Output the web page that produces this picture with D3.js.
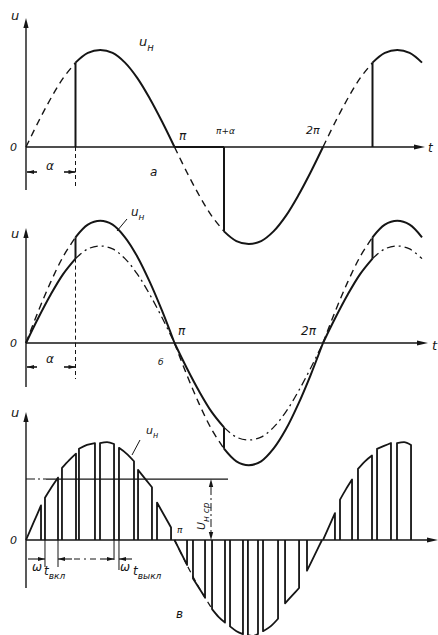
<!DOCTYPE html>
<html><head><meta charset="utf-8">
<script src="https://cdn.jsdelivr.net/npm/d3@7"></script>
<style>
body{margin:0;background:#fff}
svg{display:block}
text{font-family:"DejaVu Sans",sans-serif;font-style:italic;fill:#151515}
</style>
</head><body><svg id="c" width="438" height="635"></svg>
<script>
// ---------- data ----------
const angles = [0,15,30,45,60,75,90,105,120,135,150,165,180,195,210,225,240,255,270,285,300,315,330,345,360,375,390,405,420,435,450,465,480];
// panel a: load/supply voltage (relative)
const uA = [0,.26,.5,.71,.87,.97,1,.97,.87,.71,.5,.26,0,-.26,-.5,-.71,-.87,-.97,-1,-.97,-.87,-.71,-.5,-.26,0,.26,.5,.71,.87,.97,1,.97,.87];
// panel б: larger (supply) wave and smaller (load) wave
const uSupplyB = [0,.33,.63,.89,1.09,1.22,1.26,1.22,1.09,.89,.63,.33,0,-.33,-.63,-.89,-1.09,-1.22,-1.26,-1.22,-1.09,-.89,-.63,-.33,0,.33,.63,.89,1.09,1.22,1.26,1.22,1.09];
const uLoadB = [0,.26,.5,.71,.87,.97,1,.97,.87,.71,.5,.26,0,-.26,-.5,-.71,-.87,-.97,-1,-.97,-.87,-.71,-.5,-.26,0,.26,.5,.71,.87,.97,1,.97,.87];
const alphaDeg = 60;
// panel в: pulses (switch-on / switch-off angle, top values)
const pulseOn  = [0,23,43.6,64.2,89.7,112.7,135.8,158.8, 180,202.4,225.5,247.3,269,287.3,314,340.6, 360,380.6,402.4,425.5,449.7];
const pulseOff = [18.2,38.8,60.6,83.6,106.7,130.9,152.7,175.8, 195.2,217,241.2,263,281.2,305.5,331,358.8, 374.5,395.2,419.4,442.4,466.7];
const topOn  = [0,.44,.75,.95,1.01,.96,.73,.39, 0,-.40,-.72,-.90,-.99,-.95,-.66,-.32, 0,.42,.74,.95,1.01];
const topMid = [.18,.55,.83,.99,1.02,.90,.64,.26, -.13,-.50,-.80,-.95,-1.0,-.90,-.58,-.16, .14,.53,.82,.98,1.02];
const topOff = [.36,.65,.90,1.01,1.0,.82,.55,.13, -.26,-.60,-.86,-.98,-.98,-.82,-.50,0, .28,.63,.88,1.01,.99];
const uAvg = 0.635;

// ---------- drawing ----------
const svg = d3.select('#c');
const ink = '#151515';
const x = d3.scaleLinear().domain([0,360]).range([26,323]);
const yA = d3.scaleLinear().domain([-1,1]).range([147+97,147-97]);
const yB = d3.scaleLinear().domain([-1,1]).range([343+97,343-97]);
const yC = d3.scaleLinear().domain([-1,1]).range([540+96,540-96]);

function seg(vals,a0,a1){return angles.map((a,i)=>[a,vals[i]]).filter(d=>d[0]>=a0-1e-6&&d[0]<=a1+1e-6);}
function valAt(vals,a){return vals[angles.indexOf(a)];}
function curve(y,pts,w,dash){
  const line=d3.line().x(d=>x(d[0])).y(d=>y(d[1])).curve(d3.curveCatmullRom);
  svg.append('path').attr('d',line(pts)).attr('fill','none').attr('stroke',ink)
    .attr('stroke-width',w).attr('stroke-dasharray',dash||null).attr('stroke-linejoin','round');
}
function ln(x1,y1,x2,y2,w,dash){
  svg.append('line').attr('x1',x1).attr('y1',y1).attr('x2',x2).attr('y2',y2)
    .attr('stroke',ink).attr('stroke-width',w||1.3).attr('stroke-dasharray',dash||null);
}
function head(tx,ty,dir,len,hw){
  len=len||9;hw=hw||2.6;let p;
  if(dir==='up')p=[[tx,ty],[tx-hw,ty+len],[tx+hw,ty+len]];
  if(dir==='down')p=[[tx,ty],[tx-hw,ty-len],[tx+hw,ty-len]];
  if(dir==='right')p=[[tx,ty],[tx-len,ty-hw],[tx-len,ty+hw]];
  if(dir==='left')p=[[tx,ty],[tx+len,ty-hw],[tx+len,ty+hw]];
  svg.append('path').attr('d','M'+p.join('L')+'Z').attr('fill',ink);
}
function txt(s,tx,ty,size,sub,subSize,opts){
  const t=svg.append('text').attr('x',tx).attr('y',ty).attr('font-size',size);
  t.append('tspan').text(s);
  if(sub)t.append('tspan').attr('dy',size*0.35).attr('font-size',subSize||size*0.7).text(sub);
  if(opts&&opts.rotate)t.attr('transform',`rotate(${opts.rotate},${tx},${ty})`);
  return t;
}
function axes(y0,top,bottom,xEnd){
  ln(26,top+6,26,bottom,1.4); head(26,top,'up',10,2.6);
  ln(26,y0,xEnd-6,y0,1.4); head(xEnd,y0,'right',11,2.4);
}
function alphaDim(y0,yd,yBottom){
  const xa=x(alphaDeg);
  ln(xa,y0,xa,yBottom,1,'4,3');
  ln(27,yd,37,yd,1.6); head(27,yd,'left',7,2);
  ln(64,yd,xa,yd,1.6); head(xa,yd,'right',7,2);
}

// ===== panel а =====
axes(147,18,190,425);
[[0,60],[180,240],[360,420]].forEach(r=>curve(yA,seg(uA,r[0],r[1]),1.4,'7,5'));
[[60,180],[240,360],[420,480]].forEach(r=>curve(yA,seg(uA,r[0],r[1]),2));
[60,240,420].forEach(a=>ln(x(a),yA(0),x(a),yA(valAt(uA,a)),2));
ln(x(180),147,x(240),147,2.2);
alphaDim(147,172,188);
txt('u',11,20,13);
txt('u',139,46,13,'н',10);
txt('0',10,151,11);
txt('α',46,170,12);
txt('а',150,176,12);
txt('π',179,140,12);
txt('π+α',216,134,9);
txt('2π',306,134,11);
txt('t',428,152,12);

// ===== panel б =====
axes(343,228,387,428);
[[0,60],[180,240],[360,420]].forEach(r=>{
  curve(yB,seg(uSupplyB,r[0],r[1]),1.4,'7,5');
  curve(yB,seg(uLoadB,r[0],r[1]),2);
});
[[60,180],[240,360],[420,480]].forEach(r=>{
  curve(yB,seg(uLoadB,r[0],r[1]),1.3,'8,4,2,4');
  curve(yB,seg(uSupplyB,r[0],r[1]),2);
});
[60,240,420].forEach(a=>ln(x(a),yB(valAt(uLoadB,a)),x(a),yB(valAt(uSupplyB,a)),2));
ln(x(alphaDeg),yB(valAt(uLoadB,alphaDeg)),x(alphaDeg),343,1,'4,3');
alphaDim(343,367,379);
txt('u',11,238,13);
txt('0',10,347,11);
txt('α',46,363,12);
txt('б',158,365,9);
txt('π',178,335,12);
txt('2π',301,335,12);
txt('t',432,350,13);
txt('u',131,216,12,'н',9);
ln(127,219,117,231,1);

// ===== panel в =====
axes(540,412,588,438);
// dashed envelope at start of negative half
curve(yC,seg(uA,180,225),1.2,'6,4');
pulseOn.forEach((a,i)=>{
  const b=pulseOff[i];
  const top=d3.line().x(d=>x(d[0])).y(d=>yC(d[1])).curve(d3.curveMonotoneX)(
    [[a,topOn[i]],[(a+b)/2,topMid[i]],[b,topOff[i]]]);
  const d=`M${x(a)},${yC(0)}L${x(a)},${yC(topOn[i])}`+top.replace(/^M[^L C]+/,'')+`L${x(b)},${yC(0)}`;
  svg.append('path').attr('d',d).attr('fill','none').attr('stroke',ink).attr('stroke-width',1.8).attr('stroke-linejoin','round');
});
// average level
const yAvg=yC(uAvg);
ln(26,yAvg,46,yAvg,1.1,'9,3,2,3');
ln(46,yAvg,228,yAvg,1.3);
ln(211,yAvg+8,211,yC(0)-8,1,'8,3,2,3');
head(211,yAvg,'up',8,2.2); head(211,yC(0),'down',8,2.2);
txt('U',205,530,11,'н ср',9,{rotate:-90});
// ωt вкл / ωt выкл dimensions
const xOn=x(pulseOn[1]), xOff=x(pulseOff[1]);
ln(xOn,540,xOn,567,1); ln(xOff,540,xOff,567,1);
ln(28,559,xOn,559,1.1); head(xOn,559,'right',7,2);
ln(xOff,559,72,559,1.1); head(xOff,559,'left',7,2);
ln(74,559,100,559,1,'6,4,2,4');
const xg1=x(pulseOff[4]), xg2=x(pulseOn[5]);
ln(xg1,540,xg1,560,1); ln(xg2,540,xg2,570,1);
ln(100,559,xg1,559,1.1); head(xg1,559,'right',7,2);
ln(xg2,559,132,559,1.1); head(xg2,559,'left',7,2);
txt('ω',32,571,12);
txt('t',44,575,12,'вкл',9);
txt('ω',120,571,12);
txt('t',133,575,12,'выкл',9);
txt('0',10,544,11);
txt('u',11,417,13);
txt('π',177,533,9);
txt('u',146,434,11,'н',8);
ln(140,440,132,455,1);
txt('в',176,618,12);
</script>
</body></html>
